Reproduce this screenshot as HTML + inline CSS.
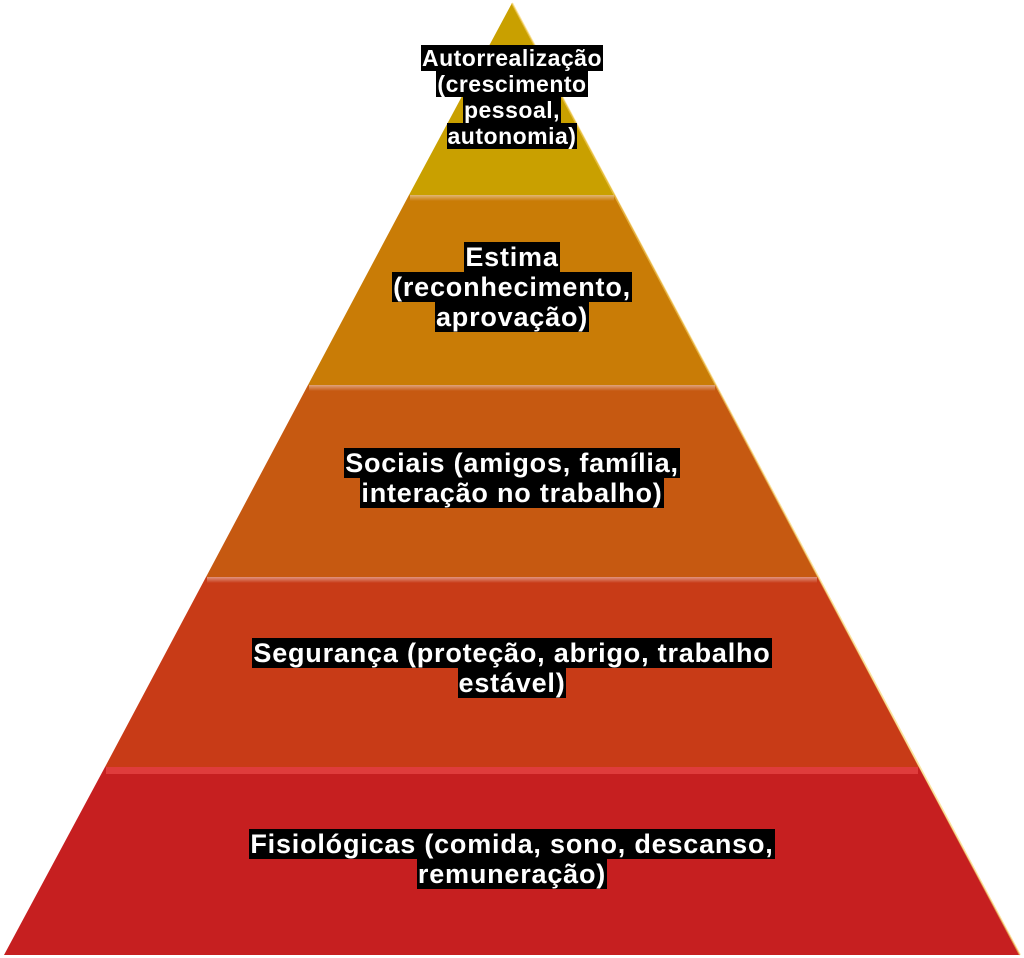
<!DOCTYPE html>
<html><head><meta charset="utf-8"><style>
body{margin:0;width:1024px;height:958px;background:#fff;position:relative;overflow:hidden;font-family:"Liberation Sans",Arial,sans-serif}
svg{position:absolute;left:0;top:0}
.t{position:absolute;left:0;width:1024px;text-align:center;color:#fff;font-weight:bold;font-size:27px;letter-spacing:0.8px;line-height:30px}
.t span{background:#000;padding:0 1px;-webkit-box-decoration-break:clone;box-decoration-break:clone}
</style></head><body>
<svg width="1024" height="958" viewBox="0 0 1024 958">
<defs>
<linearGradient id="hl" x1="0" y1="0" x2="0" y2="1"><stop offset="0" stop-color="#fff" stop-opacity="0.45"/><stop offset="1" stop-color="#fff" stop-opacity="0"/></linearGradient>
</defs>
<polygon points="512,3 615,195 409,195" fill="#C9A000"/>
<polygon points="409,195 615,195 716,385 308,385" fill="#C97C06"/>
<polygon points="308,385 716,385 818,577 206,577" fill="#C65911"/>
<polygon points="206,577 818,577 919,767 105,767" fill="#C83B17"/>
<polygon points="105,767 919,767 1020,955 4,955" fill="#C61F20"/>
<rect x="410" y="195" width="204" height="6" fill="url(#hl)"/>
<rect x="309" y="385" width="406" height="6" fill="url(#hl)"/>
<rect x="207" y="577" width="610" height="6" fill="url(#hl)"/>
<rect x="106" y="767" width="812" height="7" fill="#F05050" opacity="0.6"/>
<polyline points="512,3 1020,955" stroke="#F7D060" stroke-width="2" fill="none" opacity="0.6"/>
</svg>
<div class="t" style="top:45px;font-size:23px;letter-spacing:0.5px;line-height:26px"><span>Autorrealização </span><br><span>(crescimento </span><br><span>pessoal, </span><br><span>autonomia)</span></div>
<div class="t" style="top:242px"><span>Estima </span><br><span>(reconhecimento, </span><br><span>aprovação)</span></div>
<div class="t" style="top:448px"><span>Sociais (amigos, família, </span><br><span>interação no trabalho)</span></div>
<div class="t" style="top:638px"><span>Segurança (proteção, abrigo, trabalho </span><br><span>estável)</span></div>
<div class="t" style="top:829px"><span>Fisiológicas (comida, sono, descanso, </span><br><span>remuneração)</span></div>
</body></html>
